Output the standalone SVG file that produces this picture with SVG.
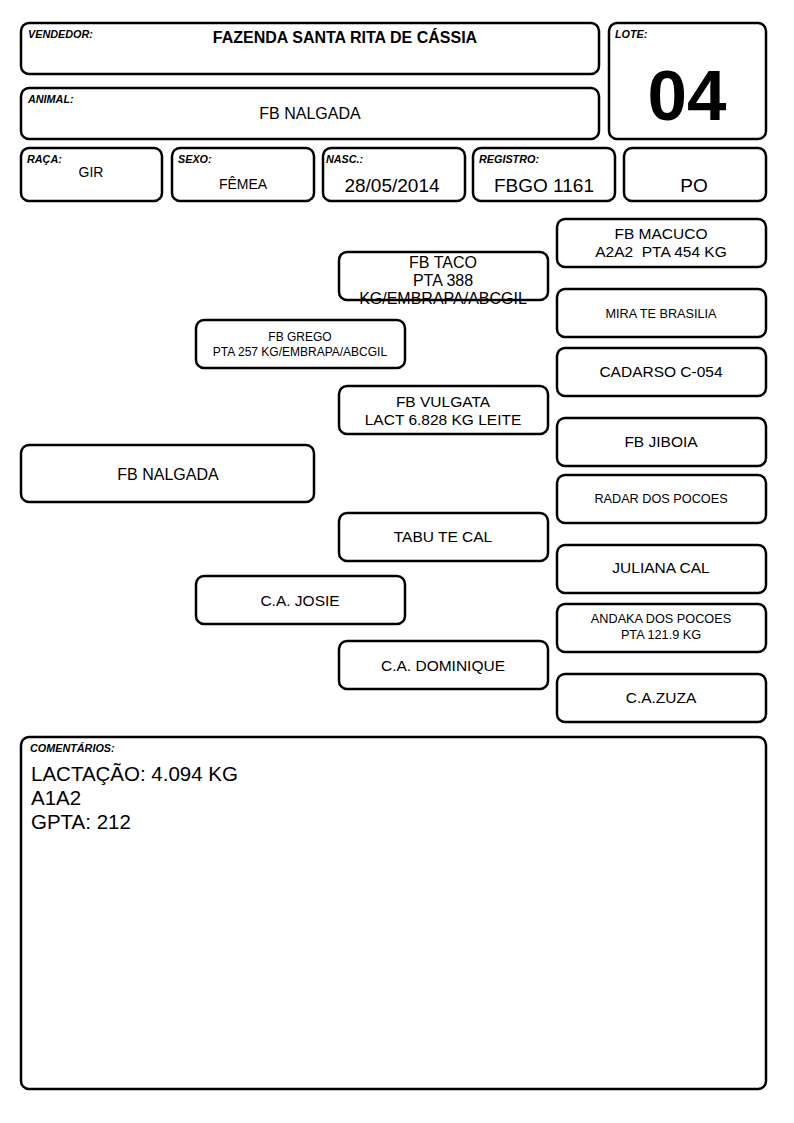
<svg xmlns="http://www.w3.org/2000/svg" width="794" height="1123" viewBox="0 0 794 1123">
<style>
rect{fill:#fff;stroke:#000;stroke-width:2.5}
text{font-family:"Liberation Sans",Arial,sans-serif;fill:#000}
.lb{font-size:10.8px;font-weight:bold;font-style:italic}
.c{text-anchor:middle}
.m{font-size:15.5px}
.s{font-size:12.7px}
</style>
<rect width="794" height="1123" style="fill:#fff;stroke:none"/>
<g id="vendedor"><rect x="21" y="23" width="578" height="51" rx="8"/><text class="lb" x="28" y="38">VENDEDOR:</text><text x="345" y="43" class="c" font-size="16" font-weight="bold">FAZENDA SANTA RITA DE CÁSSIA</text></g>
<g id="lote"><rect x="609" y="23" width="157" height="116" rx="8"/><text class="lb" x="615" y="38">LOTE:</text><text x="687" y="120" class="c" font-size="71" font-weight="bold">04</text></g>
<g id="animal"><rect x="21" y="88" width="578" height="51" rx="8"/><text class="lb" x="28" y="103">ANIMAL:</text><text x="310" y="119" class="c" font-size="16">FB NALGADA</text></g>
<g id="raca"><rect x="21" y="148" width="141" height="53" rx="8"/><text class="lb" x="27" y="163">RAÇA:</text><text x="91" y="177" class="c" font-size="14">GIR</text></g>
<g id="sexo"><rect x="172" y="148" width="142" height="53" rx="8"/><text class="lb" x="178" y="163">SEXO:</text><text x="243" y="189" class="c" font-size="14">FÊMEA</text></g>
<g id="nasc"><rect x="323" y="148" width="142" height="53" rx="8"/><text class="lb" x="326" y="163">NASC.:</text><text x="392" y="192" class="c" font-size="19">28/05/2014</text></g>
<g id="registro"><rect x="473" y="148" width="142" height="53" rx="8"/><text class="lb" x="479" y="163">REGISTRO:</text><text x="544" y="192" class="c" font-size="19">FBGO 1161</text></g>
<g id="po"><rect x="624" y="148" width="142" height="53" rx="8"/><text x="694" y="192" class="c" font-size="19">PO</text></g>

<g id="fb-taco"><rect x="339" y="252" width="209" height="48" rx="8"/><text class="c" font-size="16" x="443" y="268">FB TACO</text><text class="c" font-size="16" x="443" y="286">PTA 388</text><text class="c" font-size="16" x="443" y="304">KG/EMBRAPA/ABCGIL</text></g>
<g id="fb-grego"><rect x="196" y="320" width="209" height="48" rx="8"/><text class="c" font-size="12" x="300" y="341">FB GREGO</text><text class="c" font-size="12" x="300" y="356">PTA 257 KG/EMBRAPA/ABCGIL</text></g>
<g id="fb-vulgata"><rect x="339" y="386" width="209" height="48" rx="8"/><text class="c m" x="443" y="407">FB VULGATA</text><text class="c m" x="443" y="425">LACT 6.828 KG LEITE</text></g>
<g id="fb-nalgada"><rect x="21" y="445" width="293" height="57" rx="8"/><text class="c" font-size="16" x="168" y="480">FB NALGADA</text></g>
<g id="tabu-te-cal"><rect x="339" y="513" width="209" height="48" rx="8"/><text class="c m" x="443" y="542">TABU TE CAL</text></g>
<g id="ca-josie"><rect x="196" y="576" width="209" height="48" rx="8"/><text class="c m" x="300" y="606">C.A. JOSIE</text></g>
<g id="ca-dominique"><rect x="339" y="641" width="209" height="48" rx="8"/><text class="c m" x="443" y="671">C.A. DOMINIQUE</text></g>

<g id="fb-macuco"><rect x="557" y="219" width="209" height="48" rx="8"/><text class="c m" x="661" y="239">FB MACUCO</text><text class="c m" x="661" y="257">A2A2&#160; PTA 454 KG</text></g>
<g id="mira-te-brasilia"><rect x="557" y="289" width="209" height="48" rx="8"/><text class="c s" x="661" y="318">MIRA TE BRASILIA</text></g>
<g id="cadarso"><rect x="557" y="348" width="209" height="48" rx="8"/><text class="c m" x="661" y="377">CADARSO C-054</text></g>
<g id="fb-jiboia"><rect x="557" y="418" width="209" height="48" rx="8"/><text class="c m" x="661" y="447">FB JIBOIA</text></g>
<g id="radar"><rect x="557" y="475" width="209" height="48" rx="8"/><text class="c s" x="661" y="503">RADAR DOS POCOES</text></g>
<g id="juliana-cal"><rect x="557" y="545" width="209" height="48" rx="8"/><text class="c m" x="661" y="573">JULIANA CAL</text></g>
<g id="andaka"><rect x="557" y="604" width="209" height="48" rx="8"/><text class="c s" x="661" y="623">ANDAKA DOS POCOES</text><text class="c s" x="661" y="639">PTA 121.9 KG</text></g>
<g id="ca-zuza"><rect x="557" y="674" width="209" height="48" rx="8"/><text class="c m" x="661" y="703">C.A.ZUZA</text></g>

<g id="comentarios"><rect x="21" y="737" width="745" height="352" rx="8"/><text class="lb" x="30" y="752">COMENTÁRIOS:</text><text x="31" y="781" font-size="20.5">LACTAÇÃO: 4.094 KG</text><text x="31" y="805" font-size="20.5">A1A2</text><text x="31" y="829" font-size="20.5">GPTA: 212</text></g>
<g id="connectors"/>
</svg>
